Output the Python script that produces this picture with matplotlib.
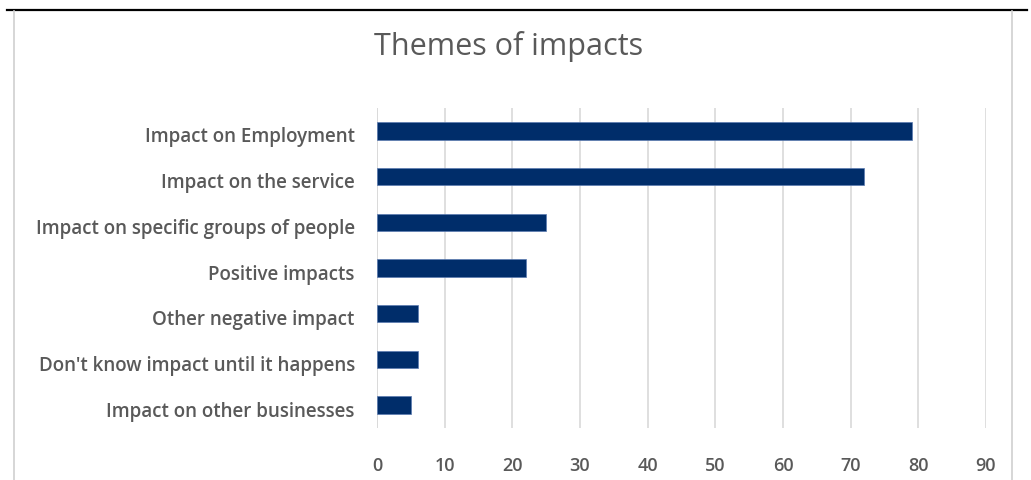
import matplotlib.pyplot as plt
import matplotlib.transforms as mtransforms
from matplotlib.lines import Line2D

categories = [
    "Impact on Employment",
    "Impact on the service",
    "Impact on specific groups of people",
    "Positive impacts",
    "Other negative impact",
    "Don't know impact until it happens",
    "Impact on other businesses",
]
values = [79, 72, 25, 22, 6, 6, 5]
xticks = list(range(0, 100, 10))

text_color = "#595959"
bar_color = "#002D6A"

plt.rcParams["font.family"] = ["Open Sans", "DejaVu Sans"]

fig = plt.figure(figsize=(10.31, 4.8), dpi=100)
ax = fig.add_axes([377 / 1031, 52 / 480, 609 / 1031, 320 / 480])

ypos = list(range(len(categories)))
ax.barh(ypos, values, height=0.38, color=bar_color, edgecolor="#5a7ab0", linewidth=0.5, zorder=3)
ax.set_ylim(len(categories) - 0.5, -0.5)
ax.set_xlim(0, 90)
ax.set_yticks(ypos)
ax.set_yticklabels(categories, fontsize=13.5, color=text_color, fontweight="semibold")
ax.set_xticks(xticks)
ax.set_xticklabels([str(t) for t in xticks], fontsize=13, color=text_color, fontweight="semibold")
ax.tick_params(axis="both", length=0)
ax.tick_params(axis="y", pad=16)
ax.tick_params(axis="x", pad=21)
ax.grid(axis="x", color="#d9d9d9", linewidth=1.2, zorder=0)
ax.axvline(0, color="#d9d9d9", linewidth=1.2, zorder=1)
for s in ax.spines.values():
    s.set_visible(False)

# Excel places category labels a little below bar centres
shift = mtransforms.ScaledTranslation(0, -4 / 100, fig.dpi_scale_trans)
for lab in ax.get_yticklabels():
    lab.set_transform(lab.get_transform() + shift)

fig.text(509 / 1031, 1 - 47 / 480, "Themes of impacts", fontsize=22, color=text_color,
         ha="center", va="center")

# frame around the chart area
fig.add_artist(Line2D([7 / 1031, 1027 / 1031], [1 - 10 / 480, 1 - 10 / 480],
                      color="black", linewidth=1.6))
fig.add_artist(Line2D([14 / 1031, 14 / 1031], [0, 1 - 11 / 480], color="#d0d0d0", linewidth=1.2))
fig.add_artist(Line2D([1012 / 1031, 1012 / 1031], [0, 1 - 11 / 480], color="#d0d0d0", linewidth=1.2))

fig.savefig("out.png", dpi=100)
